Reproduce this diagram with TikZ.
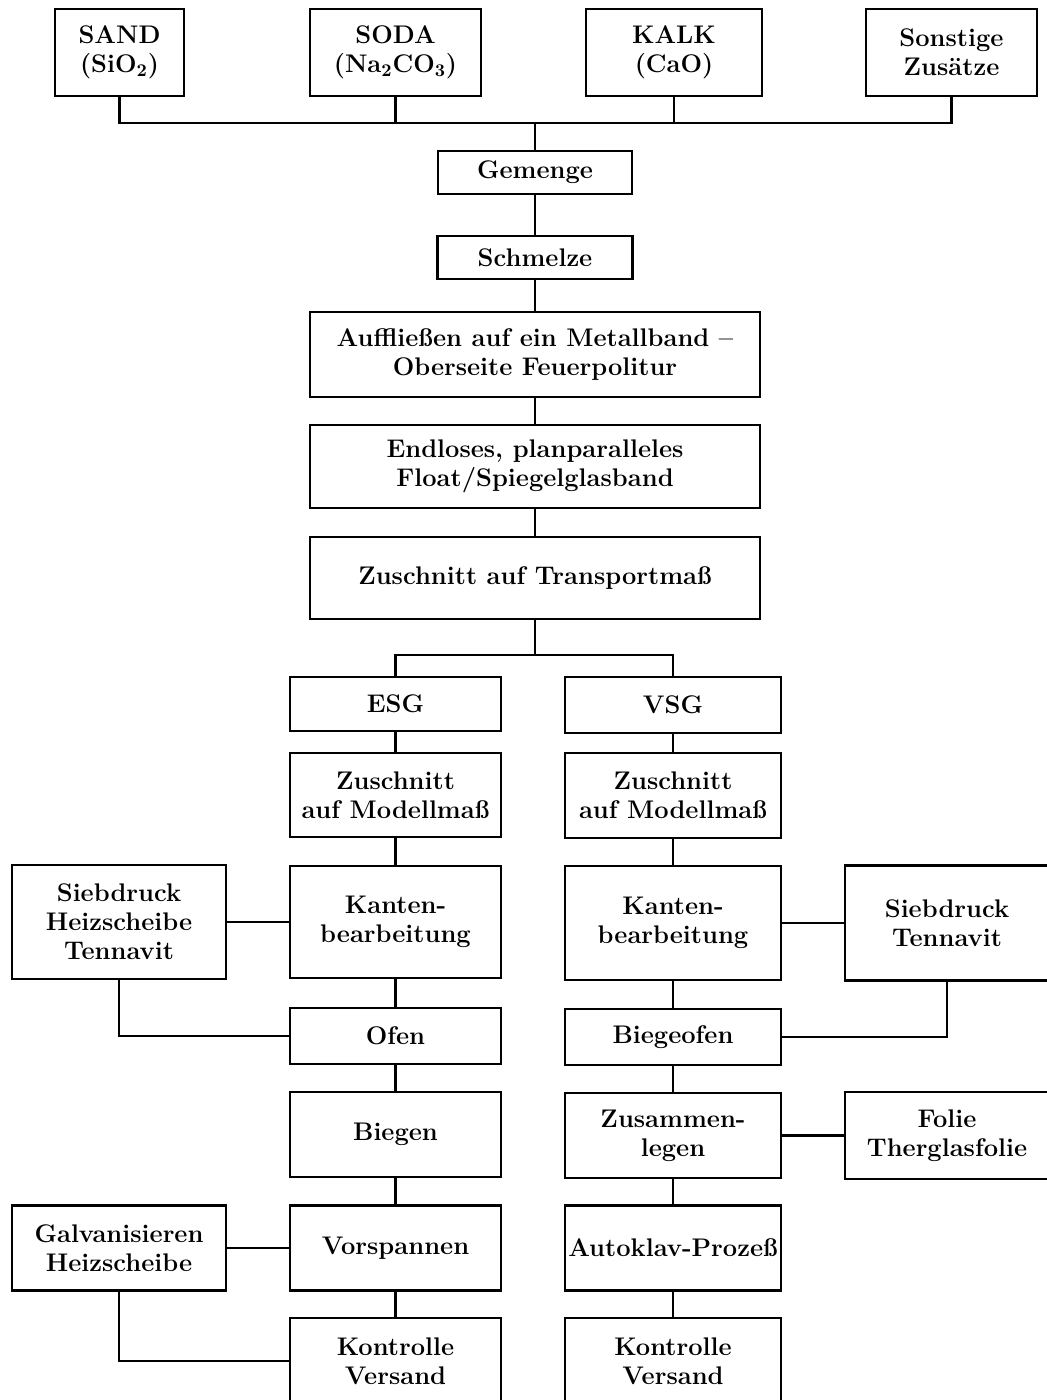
\documentclass[tikz,border=0pt]{standalone}
\usepackage{tikz}
\usetikzlibrary{positioning}

\begin{document}
\begin{tikzpicture} [x=0.2mm, y=-0.2mm, line width=1.3pt,
    box/.style 2 args={draw, align=center, inner sep=0pt,
        minimum width=#1*0.2mm, minimum height=#2*0.2mm,
        font=\bfseries\fontsize{14.5}{16.5}\selectfont}]
    \useasboundingbox (0,0) rectangle (1046,1400);

    \node (sand) [box={129}{87}] at (119.5,52.5) {SAND\\(SiO\textsubscript{2})};
    \node (soda) [box={171}{87}] at (395.5,52.5) {SODA\\(Na\textsubscript{2}CO\textsubscript{3})};
    \node (kalk) [box={176}{87}] at (674,52.5) {KALK\\(CaO)};
    \node (sonst) [box={171}{87}] at (951.5,52.5) {Sonstige\\Zusätze};

    \node (gemenge) [box={194}{43}] at (535,172.5) {Gemenge};
    \node (schmelze) [box={195}{43}] at (535,257.5) {Schmelze};
    \node (auff) [box={450}{85}] at (535,354.5) {Auffließen auf ein Metallband --\\Oberseite Feuerpolitur};
    \node (endlos) [box={450}{83}] at (535,466.5) {Endloses, planparalleles\\Float/Spiegelglasband};
    \node (transport) [box={450}{82}] at (535,578) {Zuschnitt auf Transportmaß};

    \node (esg) [box={211}{54}] at (395.5,704) {ESG};
    \node (modE) [box={211}{84}] at (395.5,795) {Zuschnitt\\auf Modellmaß};
    \node (kantE) [box={211}{112}] at (395.5,922) {Kanten-\\bearbeitung};
    \node (ofen) [box={211}{56}] at (395.5,1036) {Ofen};
    \node (biegen) [box={211}{85}] at (395.5,1134.5) {Biegen};
    \node (vorsp) [box={211}{85}] at (395.5,1248) {Vorspannen};
    \node (kontE) [box={211}{86}] at (395.5,1361) {Kontrolle\\Versand};

    \node (vsg) [box={216}{56}] at (673,705) {VSG};
    \node (modV) [box={216}{85}] at (673,795.5) {Zuschnitt\\auf Modellmaß};
    \node (kantV) [box={216}{114}] at (673,923) {Kanten-\\bearbeitung};
    \node (biegeofen) [box={216}{56}] at (673,1037) {Biegeofen};
    \node (zus) [box={216}{85}] at (673,1135.5) {Zusammen-\\legen};
    \node (autokl) [box={216}{85}] at (673,1248) {Autoklav-Prozeß};
    \node (kontV) [box={216}{86}] at (673,1361) {Kontrolle\\Versand};

    \node (siebL) [box={214}{114}] at (119,922) {Siebdruck\\Heizscheibe\\Tennavit};
    \node (galv) [box={214}{85}] at (119,1248) {Galvanisieren\\Heizscheibe};
    \node (siebR) [box={204}{115}] at (947,923) {Siebdruck\\Tennavit};
    \node (folie) [box={204}{87}] at (947,1135.5) {Folie\\Therglasfolie};

    \coordinate (bus) at (535,123);
    \coordinate (split) at (535,655);

    \draw (sand.south) -- (sand.south |- bus) -- (sonst.south |- bus) -- (sonst.south);
    \draw (soda.south) -- (soda.south |- bus);
    \draw (kalk.south) -- (kalk.south |- bus);
    \draw (bus) -- (gemenge);
    \draw (gemenge) -- (schmelze);
    \draw (schmelze) -- (auff);
    \draw (auff) -- (endlos);
    \draw (endlos) -- (transport);
    \draw (transport) -- (split);
    \draw (esg.north) |- (split) -| (vsg.north);

    \draw (esg) -- (modE);
    \draw (modE) -- (kantE);
    \draw (kantE) -- (ofen);
    \draw (ofen) -- (biegen);
    \draw (biegen) -- (vorsp);
    \draw (vorsp) -- (kontE);

    \draw (vsg) -- (modV);
    \draw (modV) -- (kantV);
    \draw (kantV) -- (biegeofen);
    \draw (biegeofen) -- (zus);
    \draw (zus) -- (autokl);
    \draw (autokl) -- (kontV);

    \draw (siebL) -- (kantE);
    \draw (siebL.south) |- (ofen.west);
    \draw (galv) -- (vorsp);
    \draw (galv.south) |- (kontE.west);
    \draw (kantV) -- (siebR);
    \draw (siebR.south) |- (biegeofen.east);
    \draw (zus) -- (folie);

\end{tikzpicture}
\end{document}
